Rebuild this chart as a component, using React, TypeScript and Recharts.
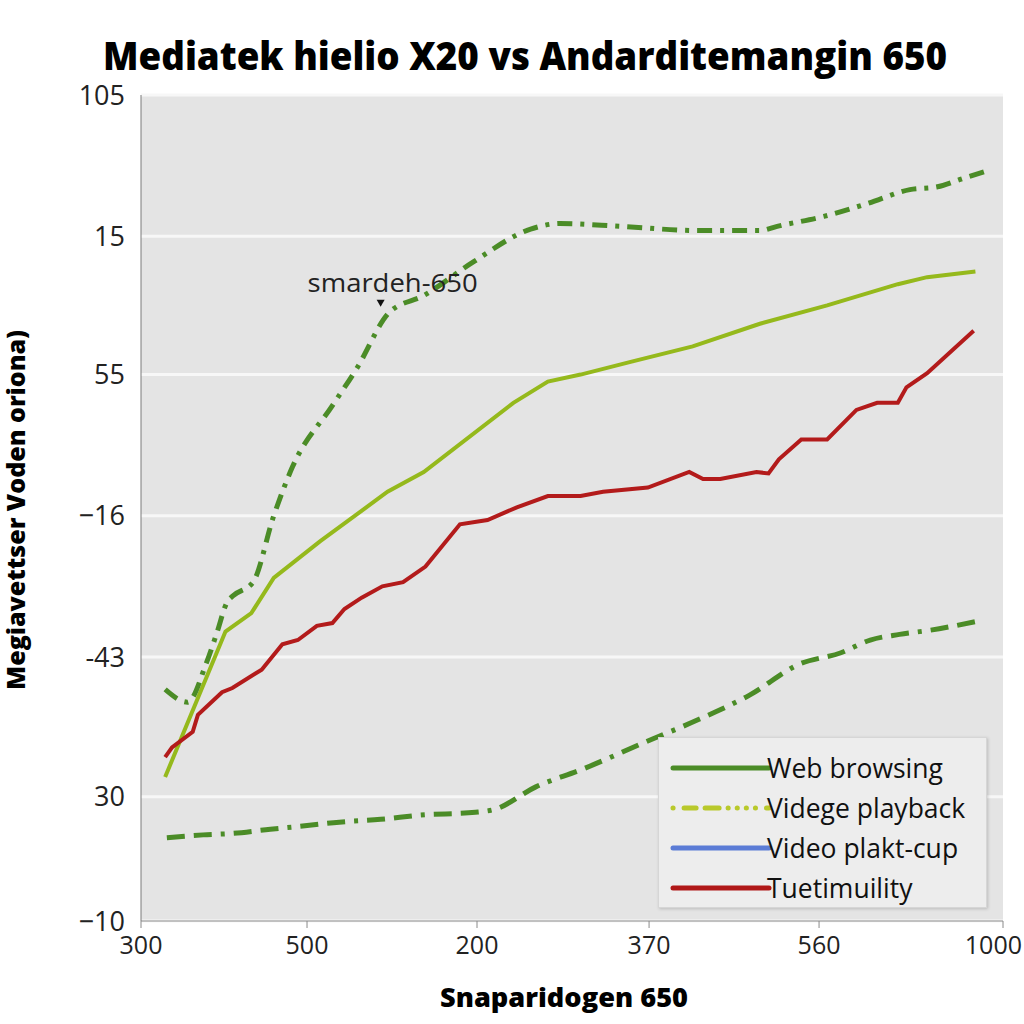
import { LineChart, Line, XAxis, YAxis, CartesianGrid, Legend, ReferenceDot } from "recharts";

// axis ticks: positions on the value scale and the labels printed at them
const xTicks = [0, 0.963, 1.949, 2.947, 3.933, 5];
const xTickLabels = ["300", "500", "200", "370", "560", "1000"];
const yTicks = [0, 0.88, 1.87, 2.87, 3.87, 4.85, 5.85];
const yTickLabels = ["−10", "30", "-43", "−16", "55", "15", "105"];

// series as [x, y] pairs
const upperDashDot: [number, number][] = [
  [0.14, 1.64], [0.27, 1.55], [0.38, 1.83], [0.44, 2.04], [0.5, 2.26], [0.53, 2.3],
  [0.65, 2.4], [0.77, 2.87], [0.88, 3.22], [1.11, 3.65], [1.25, 3.91], [1.44, 4.31],
  [1.64, 4.43], [1.93, 4.67], [2.26, 4.9], [2.43, 4.94], [2.78, 4.92], [3.23, 4.89],
  [3.59, 4.89], [3.69, 4.92], [3.96, 4.99], [4.21, 5.08], [4.46, 5.18], [4.62, 5.2],
  [4.77, 5.26], [4.9, 5.31],
];
const yellowSolid: [number, number][] = [
  [0.14, 1.02], [0.49, 2.05], [0.64, 2.18], [0.77, 2.43], [1.04, 2.69], [1.43, 3.04],
  [1.64, 3.18], [2.16, 3.67], [2.36, 3.82], [2.55, 3.87], [2.84, 3.96], [3.2, 4.07],
  [3.59, 4.23], [3.98, 4.36], [4.39, 4.51], [4.56, 4.56], [4.84, 4.6],
];
const redSolid: [number, number][] = [
  [0.14, 1.16], [0.18, 1.23], [0.3, 1.34], [0.33, 1.46], [0.47, 1.62], [0.53, 1.65],
  [0.7, 1.78], [0.82, 1.96], [0.91, 1.99], [1.02, 2.09], [1.11, 2.11], [1.18, 2.21],
  [1.28, 2.29], [1.4, 2.37], [1.52, 2.4], [1.65, 2.51], [1.85, 2.81], [2.01, 2.84],
  [2.18, 2.93], [2.36, 3.01], [2.55, 3.01], [2.68, 3.04], [2.94, 3.07], [3.18, 3.18],
  [3.26, 3.13], [3.36, 3.13], [3.57, 3.18], [3.64, 3.17], [3.7, 3.27], [3.83, 3.41],
  [3.98, 3.41], [4.15, 3.62], [4.27, 3.67], [4.39, 3.67], [4.44, 3.78], [4.56, 3.88],
  [4.83, 4.18],
];
const lowerDashed: [number, number][] = [
  [0.15, 0.59], [0.36, 0.61], [0.53, 0.62], [0.75, 0.65], [0.92, 0.67], [1.15, 0.7],
  [1.39, 0.72], [1.62, 0.75], [1.94, 0.77], [2.05, 0.79], [2.29, 0.95], [2.55, 1.07],
  [2.95, 1.28], [3.24, 1.43], [3.53, 1.6], [3.82, 1.82], [4.06, 1.9], [4.23, 1.99],
  [4.4, 2.03], [4.58, 2.06], [4.84, 2.12],
];

const legendNames = ["Web browsing", "Videge playback", "Video plakt-cup", "Tuetimuility"];
const annotationText = "smardeh-650";
const annotationPoint = { x: 1.39, y: 4.35 };

const toRows = (pts: [number, number][]) => pts.map(([x, y]) => ({ x, y }));

const FONT = "'Open Sans', 'Noto Sans', sans-serif";
const DARK_GREEN = "#4b8c27";
const YELLOW_GREEN = "#95b91c";
const RED = "#b31b1b";

const legendSamples = [
  { stroke: DARK_GREEN, dash: undefined },
  { stroke: "#b9c92b", dash: "0.1 11 12 9 14 9 0.1 9 0.1 9 0.1 9" },
  { stroke: "#5b7cd6", dash: undefined },
  { stroke: "#b01818", dash: undefined },
];

function LegendBox() {
  return (
    <div
      style={{
        width: 329,
        height: 171,
        boxSizing: "border-box",
        background: "#ededed",
        border: "1px solid #d6d6d6",
        boxShadow: "1px 1px 3px rgba(0,0,0,0.18)",
        paddingTop: 10,
        fontFamily: FONT,
      }}
    >
      {legendNames.map((name, i) => (
        <div key={name} style={{ display: "flex", alignItems: "center", height: 40 }}>
          <svg width={110} height={20} style={{ marginLeft: 10 }}>
            <line
              x1={4}
              y1={10}
              x2={100}
              y2={10}
              stroke={legendSamples[i].stroke}
              strokeWidth={5}
              strokeLinecap="round"
              strokeDasharray={legendSamples[i].dash}
            />
          </svg>
          <span style={{ fontSize: 26.5, color: "#111", marginLeft: -12, whiteSpace: "nowrap" }}>{name}</span>
        </div>
      ))}
    </div>
  );
}

function XTick(props: any) {
  const { x, y, payload, index } = props;
  const last = index === xTicks.length - 1;
  return (
    <text
      x={last ? 1022 : x}
      y={y}
      dy="0.71em"
      textAnchor={last ? "end" : "middle"}
      fontSize={25}
      fontFamily={FONT}
      fill="#222"
    >
      {xTickLabels[xTicks.indexOf(payload.value)] ?? ""}
    </text>
  );
}

function AnnotationMark(props: any) {
  const { cx, cy } = props;
  return (
    <g>
      <path d={`M ${cx - 4} ${cy - 7} L ${cx + 4} ${cy - 7} L ${cx} ${cy} Z`} fill="#111" />
      <text
        x={cx + 12}
        y={cy - 15}
        textAnchor="middle"
        fontSize={26}
        fontFamily={FONT}
        fill="#222"
        textLength={170}
        lengthAdjust="spacingAndGlyphs"
      >
        {annotationText}
      </text>
    </g>
  );
}

export default function App() {
  return (
    <div style={{ position: "absolute", left: 0, top: 0, width: 1024, height: 1024, background: "#fff" }}>
      <LineChart width={1024} height={1024} margin={{ top: 95, right: 21, bottom: 53, left: 0 }}>
        <CartesianGrid fill="#e4e4e4" stroke="#f7f7f7" strokeWidth={3} vertical={false} />
        <XAxis
          type="number"
          dataKey="x"
          domain={[0, 5]}
          ticks={xTicks}
          interval={0}
          height={50}
          tickSize={7}
          tickMargin={8}
          stroke="#8a8a8a"
          tick={<XTick />}
          allowDataOverflow
        />
        <YAxis
          type="number"
          domain={[0, 5.85]}
          ticks={yTicks}
          interval={0}
          width={141}
          tickLine={false}
          tickSize={6}
          tickMargin={10}
          stroke="#7a7a7a"
          tick={{ fill: "#222", fontSize: 27, fontFamily: FONT }}
          tickFormatter={(v: number) => yTickLabels[yTicks.indexOf(v)] ?? ""}
          allowDataOverflow
        />
        <Legend
          layout="horizontal"
          verticalAlign="middle"
          align="center"
          content={() => <LegendBox />}
          wrapperStyle={{ left: 658, top: 737, width: 329, height: 171 }}
        />
        <Line
          data={toRows(lowerDashed)}
          dataKey="y"
          type="monotone"
          stroke={DARK_GREEN}
          strokeWidth={5}
          strokeDasharray="18 9 18 9 4 9"
          dot={false}
          legendType="none"
          isAnimationActive={false}
        />
        <Line
          data={toRows(yellowSolid)}
          dataKey="y"
          type="linear"
          stroke={YELLOW_GREEN}
          strokeWidth={4}
          dot={false}
          legendType="none"
          isAnimationActive={false}
        />
        <Line
          data={toRows(redSolid)}
          dataKey="y"
          type="linear"
          stroke={RED}
          strokeWidth={4}
          dot={false}
          legendType="none"
          isAnimationActive={false}
        />
        <Line
          data={toRows(upperDashDot)}
          dataKey="y"
          type="monotone"
          stroke={DARK_GREEN}
          strokeWidth={5}
          strokeDasharray="15 8 4 8"
          dot={false}
          legendType="none"
          isAnimationActive={false}
        />
        <ReferenceDot x={annotationPoint.x} y={annotationPoint.y} r={0} shape={AnnotationMark} />
      </LineChart>
      <svg
        width={1024}
        height={1024}
        style={{ position: "absolute", left: 0, top: 0, pointerEvents: "none" }}
      >
        <text
          x={525}
          y={70}
          textAnchor="middle"
          fontSize={39}
          fontWeight={800}
          fontFamily={FONT}
          fill="#000"
          textLength={844}
          lengthAdjust="spacingAndGlyphs"
        >
          Mediatek hielio X20 vs Andarditemangin 650
        </text>
        <text
          x={564}
          y={1007}
          textAnchor="middle"
          fontSize={27}
          fontWeight={800}
          fontFamily={FONT}
          fill="#000"
          textLength={248}
          lengthAdjust="spacingAndGlyphs"
        >
          Snaparidogen 650
        </text>
        <text
          transform="translate(25 510) rotate(-90)"
          textAnchor="middle"
          fontSize={24}
          fontWeight={800}
          fontFamily={FONT}
          fill="#000"
          textLength={360}
          lengthAdjust="spacingAndGlyphs"
        >
          Megiavettser Voden oriona)
        </text>
      </svg>
    </div>
  );
}
